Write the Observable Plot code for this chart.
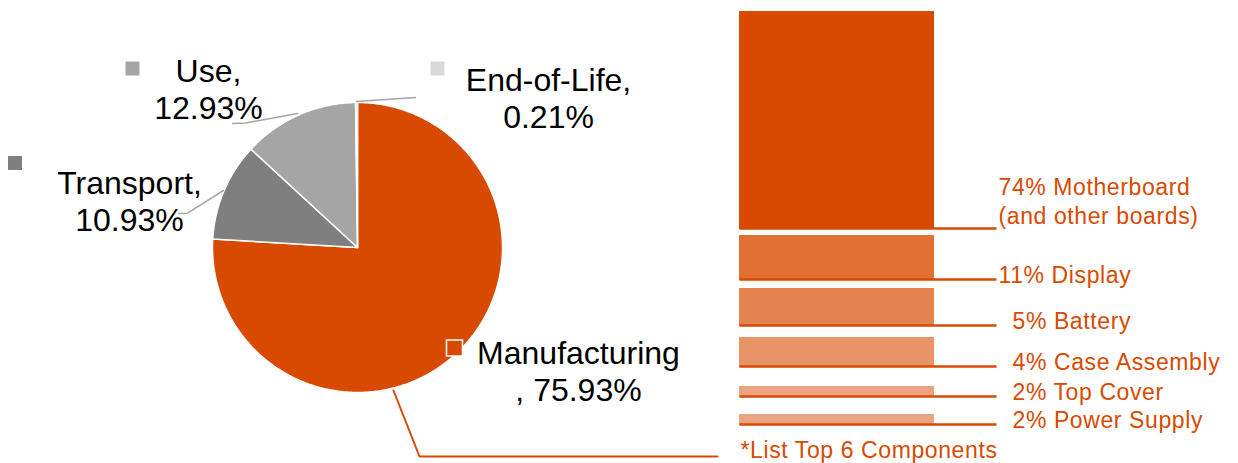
<!DOCTYPE html>
<html><head><meta charset="utf-8">
<script src="https://cdn.jsdelivr.net/npm/d3@7"></script>
<script src="https://cdn.jsdelivr.net/npm/@observablehq/plot@0.6"></script>
<style>
html,body{margin:0;padding:0;background:#fff;}
#chart{width:1238px;height:463px;overflow:hidden;}
</style></head><body><div id="chart"></div>
<script>
// ---- data ----
const stages = ["Manufacturing", "Transport", "Use", "End-of-Life"];
const stageShare = [75.93, 10.93, 12.93, 0.21];
const stageLabel = ["Manufacturing\n, 75.93%", "Transport,\n10.93%", "Use,\n12.93%", "End-of-Life,\n0.21%"];
const stageColor = ["#D84A00", "#7F7F7F", "#A5A5A5", "#D9D9D9"];

const compNames = ["Motherboard\n(and other boards)", "Display", "Battery", "Case Assembly", "Top Cover", "Power Supply"];
const compPct = [74, 11, 5, 4, 2, 2];
const compBarSize = [218, 45, 38, 30, 11, 11]; // drawn bar heights
const compColor = ["#D84A00", "#E07034", "#E3834F", "#E89468", "#EBA482", "#EBA482"];
const footnote = "*List Top 6 Components";

// ---- layout ----
const W = 1238, H = 463;
const cx = 357, cy = 247, R = 145;
const orange = "#D84A00";
const font = "'Liberation Sans', Arial, Helvetica, sans-serif";

// pie polygons
const arcs = d3.pie().sort(null)(stageShare);
const pt = (a, r) => ({x: cx + r * Math.sin(a), y: cy - r * Math.cos(a)});
const pieMarks = arcs.map((a, i) => {
  const pts = [{x: cx, y: cy}];
  const n = Math.max(2, Math.ceil((a.endAngle - a.startAngle) / 0.01));
  for (let k = 0; k <= n; k++) pts.push(pt(a.startAngle + (a.endAngle - a.startAngle) * k / n, R));
  return Plot.line(pts, {x: "x", y: "y", fill: stageColor[i], stroke: "#fff", strokeWidth: 1.5, curve: "linear-closed"});
});

// pie labels (manual placement like the source)
const labelAt = {
  "Manufacturing": {x: 578, y: 400, mx: 454, my: 347.5},
  "Transport": {x: 129, y: 230, mx: 14.5, my: 162.5},
  "Use": {x: 208, y: 118, mx: 132, my: 68},
  "End-of-Life": {x: 548, y: 127, mx: 437, my: 68}
};
const pieLabels = stages.map((s, i) => ({name: s, text: stageLabel[i], color: stageColor[i], ...labelAt[s]}));

// leader lines
const grayLeaders = [
  [{x: 232, y: 123}, {x: 245, y: 122.5}, {x: 297, y: 113}],
  [{x: 178, y: 213}, {x: 187, y: 212.7}, {x: 223, y: 190}],
  [{x: 356, y: 101}, {x: 415, y: 97}]
];
const orangeLeader = [{x: 393, y: 390}, {x: 419, y: 456}, {x: 717, y: 456}];

// component bars
const barX1 = 739, barX2 = 934, ruleX2 = 996, labelX = 998;
const gaps = [6, 8, 11, 19, 17];
let yCursor = 11;
const comps = compNames.map((n, i) => {
  const y1 = yCursor, y2 = yCursor + compBarSize[i];
  yCursor = y2 + (gaps[i] || 0);
  return {name: n, pct: compPct[i], y1, y2, color: compColor[i],
    text: `${compPct[i]}% ${n}`, lx: labelX + (compPct[i] < 10 ? 14 : 0),
    ly: n.includes("\n") ? y2 - 6 : y2 + 2};
});

const sqSide = 14;
const chart = Plot.plot({
  width: W, height: H,
  margin: 0,
  x: {domain: [0, W], axis: null},
  y: {domain: [H, 0], axis: null},
  style: {fontFamily: font, background: "#fff"},
  marks: [
    ...pieMarks,
    ...grayLeaders.map(l => Plot.line(l, {x: "x", y: "y", stroke: "#A6A6A6", strokeWidth: 1.5})),
    Plot.line(orangeLeader, {x: "x", y: "y", stroke: orange, strokeWidth: 2}),
    Plot.dot(pieLabels.filter(d => d.name !== "Manufacturing"), {x: "mx", y: "my", symbol: "square",
      r: sqSide / Math.sqrt(Math.PI), fill: d => d.color}),
    Plot.dot(pieLabels.filter(d => d.name === "Manufacturing"), {x: "mx", y: "my", symbol: "square",
      r: 16 / Math.sqrt(Math.PI), fill: d => d.color, stroke: "#fff", strokeWidth: 1.5}),
    Plot.text(pieLabels, {x: "x", y: "y", text: "text", fill: "#000", fontSize: 32, lineAnchor: "bottom", lineHeight: 1.13, textAnchor: "middle"}),
    Plot.rect(comps, {x1: barX1, x2: barX2, y1: "y1", y2: "y2", fill: "color"}),
    Plot.link(comps, {x1: barX1, x2: ruleX2, y1: d => d.y2 - 1, y2: d => d.y2 - 1, stroke: orange, strokeWidth: 2.5}),
    Plot.text(comps, {x: "lx", y: "ly", text: "text", fill: orange, fontSize: 23, textAnchor: "start", lineAnchor: "bottom", lineHeight: 1.26, style: {letterSpacing: "0.6px"}}),
    Plot.text([footnote], {x: barX1 + 1, y: 457, text: d => d, fill: orange, fontSize: 23, textAnchor: "start", lineAnchor: "bottom"})
  ]
});
chart.querySelectorAll("text").forEach(t => { if (t.getAttribute("fill") === orange || t.closest("[fill='" + orange + "']")) t.style.letterSpacing = "0.6px"; });
document.getElementById("chart").append(chart);
</script>
</body></html>
